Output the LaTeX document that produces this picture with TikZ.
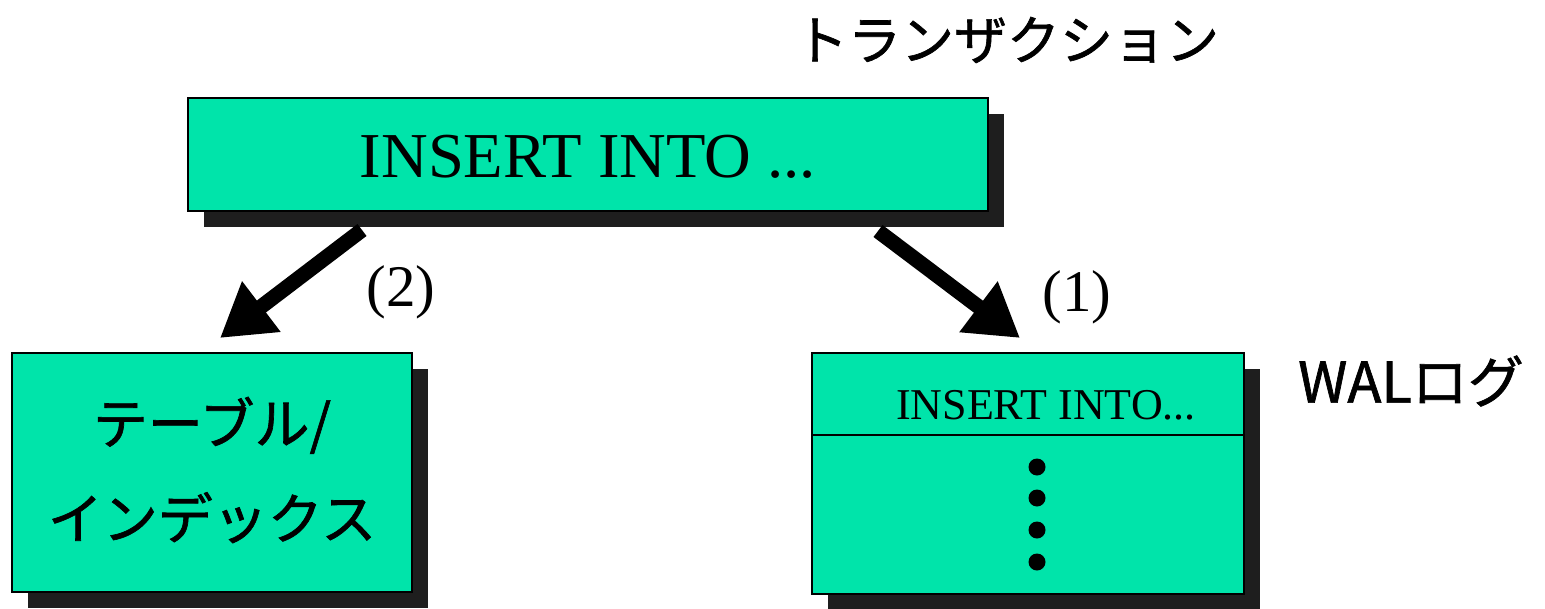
\documentclass[tikz,border=0pt]{standalone}
\usepackage{fontspec}
\setmainfont{Liberation Serif}
\newfontfamily\jp[FakeBold=1.2]{Noto Sans CJK JP}
\usetikzlibrary{arrows.meta,shadows}
\definecolor{boxgreen}{RGB}{0,228,170}
\definecolor{shadowc}{RGB}{30,30,30}
\tikzset{
  box/.style={draw=black, line width=1.6pt, fill=boxgreen, inner sep=0pt,
    drop shadow={shadow xshift=16pt, shadow yshift=-16pt, fill=shadowc, opacity=1}},
  bigarrow/.style={line width=15pt, -{Triangle[length=52pt, width=60pt]}},
  serif/.style={font=\fontsize{#1}{#1}\selectfont},
  jtext/.style={font=\jp\fontsize{#1}{#1}\selectfont}
}
\begin{document}
\begin{tikzpicture}[x=1pt,y=-1pt]
\useasboundingbox (0,0) rectangle (1545,608);

% transaction statement
\node[box, minimum width=800pt, minimum height=113pt] (top) at (588,154.5) {};
\node[serif=64, xscale=1.01] (toptext) at (588,157) {INSERT INTO ...};
\node[jtext=53] (trans) at (1007,40) {トランザクション};

% table / index store
\node[box, minimum width=400pt, minimum height=239pt] (tbl) at (212,472.5) {};
\node[align=center, font=\jp\fontsize{55}{95}\selectfont] (tbltext) at (212,470) {テーブル/\\インデックス};

% WAL log
\node[box, minimum width=432pt, minimum height=241pt] (wal) at (1028,473.5) {};
\draw[line width=1.6pt] (wal.west |- 0,435) coordinate (divl) -- (wal.east |- 0,435) coordinate (divr);
\node[serif=44] (waltext) at (1046,405) {INSERT INTO...};
\foreach \y [count=\i] in {467,498,530,562}
  \fill (1037,\y) circle (8.5pt);
\node[jtext=56] (wallabel) at (1411,381) {WALログ};

% write order arrows
\coordinate (a2s) at (362,230);
\coordinate (a2e) at (220,338);
\coordinate (a1s) at (878,231);
\coordinate (a1e) at (1020,338);
\draw[bigarrow] (a2s) -- (a2e);
\draw[bigarrow] (a1s) -- (a1e);
\node[serif=59] (l2) at (401,292) {(2)};
\node[serif=59] (l1) at (1077,297) {(1)};
\end{tikzpicture}
\end{document}
